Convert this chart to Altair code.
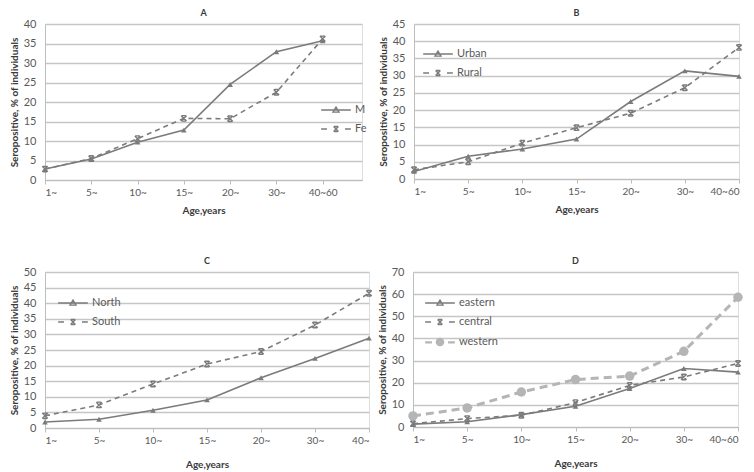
import json
import altair as alt
import pandas as pd

# ---------------- data ----------------
AGE_AB = ["1~", "5~", "10~", "15~", "20~", "30~", "40~60"]
AGE_C = ["1~", "5~", "10~", "15~", "20~", "30~", "40~"]

A_NAMES = ["M", "Fe"]
A_M = [2.8, 5.4, 9.7, 12.8, 24.5, 32.9, 35.7]
A_FE = [2.8, 5.5, 10.6, 15.8, 15.7, 22.5, 36.2]

B_NAMES = ["Urban", "Rural"]
B_URBAN = [2.2, 6.6, 8.7, 11.6, 22.5, 31.4, 29.8]
B_RURAL = [2.7, 5.0, 10.4, 14.9, 19.1, 26.5, 38.2]

C_NAMES = ["North", "South"]
C_NORTH = [1.9, 2.8, 5.7, 9.0, 16.1, 22.3, 28.8]
C_SOUTH = [3.9, 7.4, 14.1, 20.5, 24.5, 33.0, 43.2]

D_NAMES = ["eastern", "central", "western"]
D_EASTERN = [1.3, 2.4, 5.6, 9.4, 17.4, 26.4, 24.8]
D_CENTRAL = [1.5, 3.8, 5.3, 11.0, 18.8, 22.6, 28.7]
D_WESTERN = [5.0, 8.6, 15.8, 21.4, 23.0, 34.2, 58.6]

# ---------------- styles ----------------
FONT = "Lato"
DARK = "#7b7b7b"
LIGHT = "#b5b5b5"
GRID = "#c6c6c6"
TEXT = "#595959"
TITLE = "#3a3a3a"

STAR = "M-1,-1L1,1M-1,1L1,-1M-0.8,-1H0.8M-0.8,1H0.8"
# legend symbols: symbolSize 324 -> unit = 9px
LEG_SOLID_TRI = "M-1.65,0H1.65M0,-0.33L0.33,0.24L-0.33,0.24Z"
LEG_DASH_STAR = ("M-1.65,0H-1.0M1.0,0H1.65M-0.27,-0.27L0.27,0.27M-0.27,0.27L0.27,-0.27"
                 "M-0.24,-0.27H0.24M-0.24,0.27H0.24")
LEG_DASH_CIRC = ("M-1.65,0H-0.9M0.9,0H1.65M-1.65,0.1H-0.9M0.9,0.1H1.65"
                 "M0.4,0A0.4,0.4 0 1,1 -0.4,0A0.4,0.4 0 1,1 0.4,0"
                 "M0.25,0A0.25,0.25 0 1,1 -0.25,0A0.25,0.25 0 1,1 0.25,0"
                 "M0.1,0A0.1,0.1 0 1,1 -0.1,0A0.1,0.1 0 1,1 0.1,0")

SOLID_TRI = dict(color=DARK, dash=None, sw=1.6, shape="triangle-up", size=32,
                 filled=True, leg=LEG_SOLID_TRI)
DASH_STAR = dict(color=DARK, dash=[5, 4], sw=1.6, shape=STAR, size=30,
                 filled=False, leg=LEG_DASH_STAR)
DASH_CIRC = dict(color=LIGHT, dash=[8, 5], sw=3, shape="circle", size=90,
                 filled=True, leg=LEG_DASH_CIRC)


def panel(title, labels, names, values, styles, ymax, ystep, xmax, width,
          height, lx, ly, xtitle_pad):
    rows = []
    for name, vals in zip(names, values):
        for i, v in enumerate(vals):
            rows.append({"series": name, "idx": i, "val": v})
    df = pd.DataFrame(rows)
    label_expr = json.dumps(labels) + "[datum.value]"
    x = alt.X("idx:Q", scale=alt.Scale(domain=[0, xmax], nice=False, zero=False),
              axis=alt.Axis(values=list(range(len(labels))), labelExpr=label_expr,
                            title="Age,years", grid=False, tickSize=4,
                            tickColor="#bdbdbd", domainColor="#bdbdbd",
                            labelFont=FONT, labelFontSize=10, labelColor=TEXT,
                            labelPadding=3, titleFont=FONT, titleFontSize=10,
                            titleFontWeight="bold", titleColor=TITLE,
                            titlePadding=xtitle_pad))
    y = alt.Y("val:Q", scale=alt.Scale(domain=[0, ymax], nice=False),
              axis=alt.Axis(values=list(range(0, ymax + 1, ystep)),
                            title="Seropositive, % of individuals", ticks=False,
                            labelPadding=9, domainColor="#bdbdbd",
                            gridColor=GRID, gridWidth=1.6, labelFont=FONT,
                            labelFontSize=11, labelColor=TEXT, titleFont=FONT,
                            titleFontSize=10, titleFontWeight="bold",
                            titleColor=TITLE, titlePadding=4))
    layers = []
    for name, st in zip(names, styles):
        sub = df[df["series"] == name]
        line_kw = dict(color=st["color"], strokeWidth=st["sw"])
        if st["dash"]:
            line_kw["strokeDash"] = st["dash"]
        layers.append(alt.Chart(sub).mark_line(**line_kw).encode(x=x, y=y))
        if st["filled"]:
            pt = alt.Chart(sub).mark_point(shape=st["shape"], size=st["size"],
                                           filled=True, color=st["color"],
                                           opacity=1)
        else:
            pt = alt.Chart(sub).mark_point(shape=st["shape"], size=st["size"],
                                           filled=False, color=st["color"],
                                           strokeWidth=1.4, opacity=1)
        layers.append(pt.encode(x=x, y=y))
    leg = alt.Legend(title=None, orient="none", legendX=lx, legendY=ly,
                     symbolSize=324, symbolStrokeWidth=1.4, symbolOpacity=1,
                     labelFont=FONT, labelFontSize=11, labelColor=TEXT,
                     labelOffset=9, rowPadding=4)
    legend_layer = alt.Chart(df).transform_filter("false").mark_point(
        filled=False, strokeWidth=1.4).encode(
        shape=alt.Shape("series:N", scale=alt.Scale(
            domain=names, range=[s["leg"] for s in styles]), legend=leg),
        color=alt.Color("series:N", scale=alt.Scale(
            domain=names, range=[s["color"] for s in styles]), legend=leg),
    )
    layers.append(legend_layer)
    return alt.layer(*layers).properties(
        width=width, height=height,
        title=alt.TitleParams(title, font=FONT, fontSize=9, fontWeight="bold",
                              color=TITLE, offset=0),
    )


def indep(c):
    return c.resolve_scale(color="independent", shape="independent").resolve_legend(
        color="independent", shape="independent")


pA = panel("A", AGE_AB, A_NAMES, [A_M, A_FE], [SOLID_TRI, DASH_STAR],
           40, 5, 6.85, 317, 156, 281, 76, 8)
pB = panel("B", AGE_AB, B_NAMES, [B_URBAN, B_RURAL], [SOLID_TRI, DASH_STAR],
           45, 5, 6, 325, 155, 14, 20, 8)
pC = panel("C", AGE_C, C_NAMES, [C_NORTH, C_SOUTH], [SOLID_TRI, DASH_STAR],
           50, 5, 6, 324, 156, 18, 21, 14)
pD = panel("D", AGE_AB, D_NAMES, [D_EASTERN, D_CENTRAL, D_WESTERN],
           [SOLID_TRI, DASH_STAR, DASH_CIRC], 70, 10, 6, 325, 155, 17, 21, 14)

row1 = indep(alt.hconcat(pA, pB, spacing=9))
row2 = indep(alt.hconcat(pC, pD, spacing=0))
chart = indep(alt.vconcat(row1, row2, spacing=40)).properties(
    padding=0
).configure_view(stroke=None).configure(font=FONT)

chart.save("out.html", embed_options={"renderer": "svg", "actions": False})
